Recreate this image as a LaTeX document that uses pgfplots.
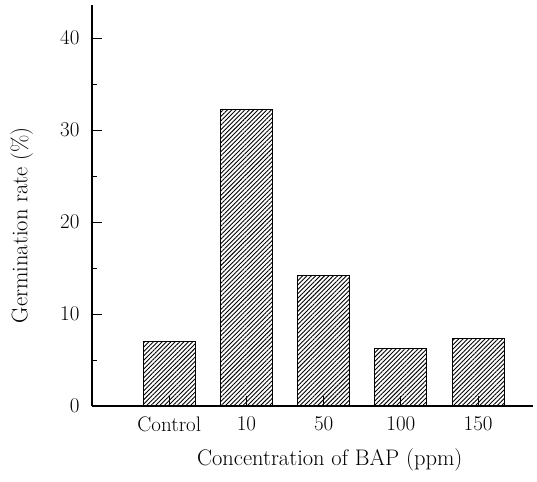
\documentclass[border=0pt]{standalone}
\usepackage{pgfplots}
\pgfplotsset{compat=1.18}
\usetikzlibrary{patterns.meta}
\begin{document}
\begin{tikzpicture}
\begin{axis}[
  scale only axis, width=441pt, height=401pt,
  xmin=-1.001, xmax=4.711, ymin=0, ymax=43.6,
  axis x line=bottom, axis y line=left,
  axis line style={-, line width=1.3pt},
  xtick={0,1,2,3,4}, xticklabels={Control,10,50,100,150},
  ytick={0,10,20,30,40}, minor ytick={5,15,25,35},
  tick align=inside,
  major tick length=10pt, minor tick length=5pt,
  tick style={line width=0.9pt, black},
  ticklabel style={font=\fontsize{21}{25}\selectfont},
  /pgf/number format/assume math mode=true,
  yticklabel style={xshift=-9pt},
  xticklabel style={yshift=-7pt},
  label style={font=\fontsize{22.5}{27}\selectfont},
  xlabel={Concentration of BAP (ppm)},
  ylabel={Germination rate (\%)},
  xlabel style={at={(axis description cs:0.539,-0.1496)}, anchor=base},
  ylabel style={at={(axis description cs:-0.159,0.451)}, anchor=center},
  clip=false,
]
\addplot[ybar, bar width=52pt, draw=black, line width=0.9pt,
  pattern={Lines[angle=45,distance=3.1pt,line width=0.9pt]}]
  coordinates {(0,7.0) (1,32.2) (2,14.2) (3,6.3) (4,7.3)};
\path (axis description cs:-0.2086,-0.1895) rectangle (axis description cs:1.0091,1.0125);
\end{axis}
\end{tikzpicture}
\end{document}
